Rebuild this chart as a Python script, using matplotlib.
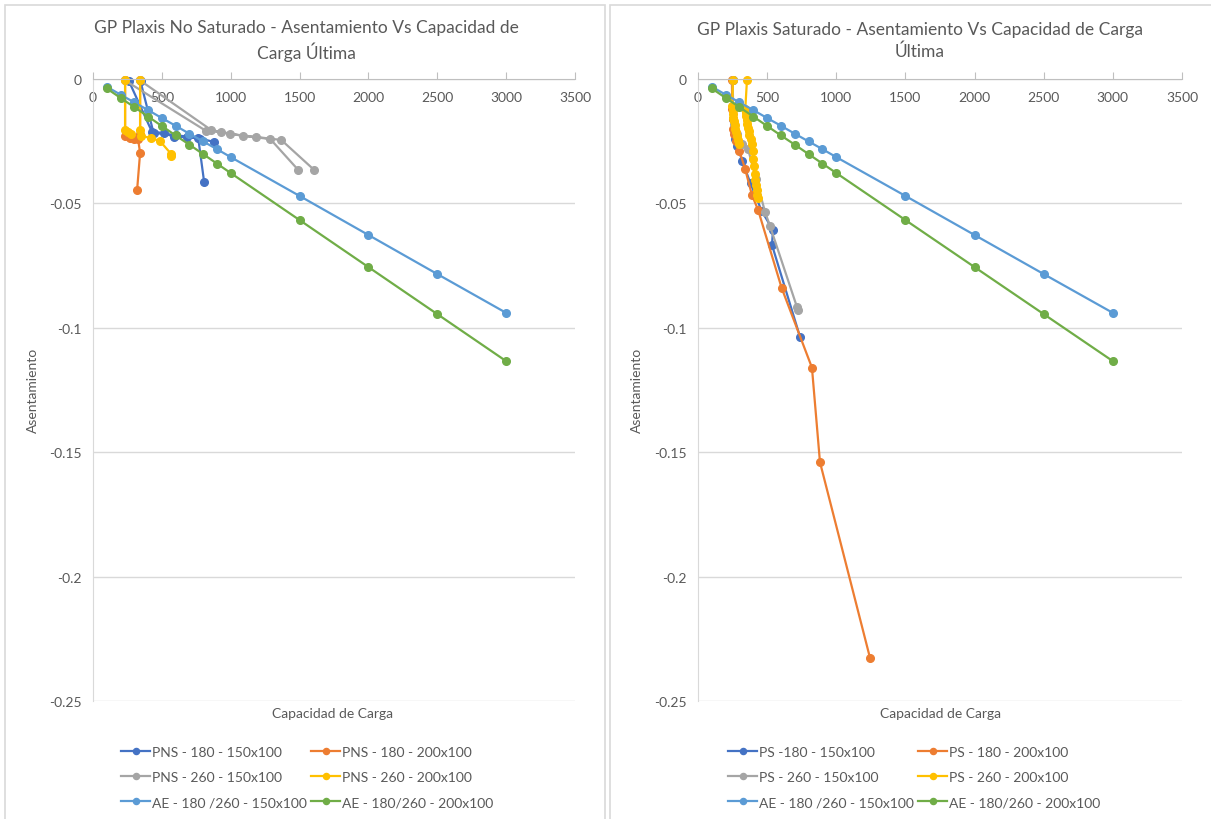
import numpy as np
import matplotlib
matplotlib.use("Agg")
import matplotlib.pyplot as plt
from matplotlib.patches import Rectangle

plt.rcParams['font.family'] = ['Lato', 'DejaVu Sans']

# ---- data (None = gap in the line, like empty cells in Excel) ----
ae_x = [100, 200, 300, 400, 500, 600, 700, 800, 900, 1000, 1500, 2000, 2500, 3000]
ae150_y = [-0.0031, -0.0063, -0.0094, -0.0125, -0.0157, -0.0188, -0.022, -0.0251,
           -0.0282, -0.0314, -0.047, -0.0627, -0.0784, -0.094]
ae200_y = [-0.0038, -0.0076, -0.0113, -0.0151, -0.0189, -0.0227, -0.0264, -0.0302,
           -0.034, -0.0378, -0.0567, -0.0756, -0.0945, -0.1134]

# no saturado
pns180_150_x = [262, 429, 516, 589, 684, 764, 807, None, 345, 440, 600, 780, 880]
pns180_150_y = [-0.001, -0.0213, -0.0217, -0.0233, -0.0233, -0.0237, -0.0414, None,
                -0.001, -0.0217, -0.0225, -0.024, -0.0253]
pns180_200_x = [233, 233, 269, 300, None, 342, 342, 327, 342, 320]
pns180_200_y = [-0.0005, -0.0229, -0.0237, -0.024, None, -0.0005, -0.022, -0.0241, -0.0297, -0.0448]
pns260_150_x = [230, 822, 931, 1091, 1287, 1491, None, 340, 858, 996, 1185, 1367, 1607]
pns260_150_y = [-0.0005, -0.0209, -0.0213, -0.0229, -0.0241, -0.0366, None,
                -0.0005, -0.0205, -0.0221, -0.0233, -0.0245, -0.0366]
pns260_200_x = [233, 233, 255, 276, None, 342, 342, 349, 422, 487, 567, 567]
pns260_200_y = [-0.0005, -0.0205, -0.0213, -0.022, None, -0.0005, -0.0205, -0.0229,
                -0.0237, -0.025, -0.0301, -0.031]

# saturado
ps180_150_x = [250, 252, 256, 262, 270, 285, 320, 380, 460, 542, 535, 738]
ps180_150_y = [-0.0005, -0.012, -0.016, -0.02, -0.024, -0.027, -0.033, -0.042, -0.053,
               -0.0607, -0.0667, -0.1037]
ps180_200_x = [245, 248, 250, 255, 262, 275, 300, 340, 390, 435, 605, 824, 882, 1244]
ps180_200_y = [-0.0005, -0.012, -0.016, -0.02, -0.022, -0.025, -0.029, -0.036, -0.0466,
               -0.0527, -0.084, -0.116, -0.154, -0.2327]
ps260_150_x = [250, 255, 262, 280, 318, 361, 420, 485, 520, 716, 722]
ps260_150_y = [-0.0005, -0.012, -0.018, -0.022, -0.026, -0.028, -0.04, -0.0535, -0.059,
               -0.0917, -0.093]
ps260_200_x = [253, 248, 250, 253, 256, 260, 264, 268, 273, 280, 290, 300, None,
               354, 342, 345, 348, 352, 356, 360, 366, 372, 380, 388, 395, 400, 405,
               410, 415, 420, 425, 430, 434]
ps260_200_y = [-0.0005, -0.011, -0.0125, -0.014, -0.0155, -0.017, -0.0185, -0.02,
               -0.0215, -0.023, -0.0245, -0.026, None,
               -0.0005, -0.012, -0.0135, -0.015, -0.0165, -0.018, -0.0195, -0.021,
               -0.0225, -0.024, -0.026, -0.029, -0.032, -0.035, -0.038, -0.0405,
               -0.0425, -0.0445, -0.0465, -0.048]

blue, orange, gray, yellow = '#4472C4', '#ED7D31', '#A5A5A5', '#FFC000'
lblue, green = '#5B9BD5', '#70AD47'
txt = '#595959'

W, H = 1211, 820
fig = plt.figure(figsize=(W / 100, H / 100), dpi=100)

# chart borders
for x0, x1 in [(5, 605), (610, 1215)]:
    fig.patches.append(Rectangle((x0 / W, -0.05), (x1 - x0) / W, 1.05 - 6 / H,
                                 transform=fig.transFigure, fill=False,
                                 edgecolor='#D9D9D9', lw=1.2))


def arr(v):
    return np.array([np.nan if a is None else a for a in v], dtype=float)


def make_axes(left_px, right_px):
    ax = fig.add_axes([left_px / W, 1 - 702 / H, (right_px - left_px) / W, 622 / H])
    ax.set_xlim(0, 3500)
    ax.set_ylim(-0.25, 0)
    ax.set_xticks(np.arange(0, 3501, 500))
    ax.set_yticks([0, -0.05, -0.1, -0.15, -0.2, -0.25])
    ax.set_yticklabels(['0', '-0.05', '-0.1', '-0.15', '-0.2', '-0.25'])
    ax.spines['bottom'].set_position(('data', 0))
    ax.spines['bottom'].set_color('#BFBFBF')
    ax.spines['left'].set_color('#D9D9D9')
    ax.spines['top'].set_visible(False)
    ax.spines['right'].set_visible(False)
    ax.tick_params(axis='x', direction='in', length=5, color='#BFBFBF',
                   labelcolor=txt, labelsize=10, pad=9)
    ax.tick_params(axis='y', length=0, labelcolor=txt, labelsize=10, pad=8)
    ax.grid(axis='y', color='#D9D9D9', lw=1)
    ax.set_axisbelow(True)
    return ax


def draw(ax, series):
    handles = []
    for x, y, c, lab in series:
        h, = ax.plot(arr(x), arr(y), color=c, lw=1.6, marker='o', ms=5.5,
                     label=lab, clip_on=False)
        handles.append(h)
    return handles


ax1 = make_axes(93, 575)
h1 = draw(ax1, [
    (pns180_150_x, pns180_150_y, blue, 'PNS - 180 - 150x100'),
    (pns180_200_x, pns180_200_y, orange, 'PNS - 180 - 200x100'),
    (pns260_150_x, pns260_150_y, gray, 'PNS - 260 - 150x100'),
    (pns260_200_x, pns260_200_y, yellow, 'PNS - 260 - 200x100'),
    (ae_x, ae150_y, lblue, 'AE - 180 /260 - 150x100'),
    (ae_x, ae200_y, green, 'AE - 180/260 - 200x100'),
])

ax2 = make_axes(698, 1182)
h2 = draw(ax2, [
    (ps180_150_x, ps180_150_y, blue, 'PS -180 - 150x100'),
    (ps180_200_x, ps180_200_y, orange, 'PS - 180 - 200x100'),
    (ps260_150_x, ps260_150_y, gray, 'PS - 260 - 150x100'),
    (ps260_200_x, ps260_200_y, yellow, 'PS - 260 - 200x100'),
    (ae_x, ae150_y, lblue, 'AE - 180 /260 - 150x100'),
    (ae_x, ae200_y, green, 'AE - 180/260 - 200x100'),
])

# titles and axis labels
fig.text(306 / W, 1 - 41 / H,
         'GP Plaxis No Saturado - Asentamiento Vs Capacidad de\nCarga Última',
         ha='center', va='center', fontsize=12.5, color=txt, linespacing=1.35)
fig.text(920 / W, 1 - 41 / H,
         'GP Plaxis Saturado - Asentamiento Vs Capacidad de Carga\nÚltima',
         ha='center', va='center', fontsize=12.5, color=txt, linespacing=1.35)
for cx, ly in [(33, 333), (637, 940)]:
    fig.text(cx / W, 1 - 390 / H, 'Asentamiento', rotation=90, ha='center',
             va='center', fontsize=10, color=txt)
    fig.text(ly / W, 1 - 714 / H, 'Capacidad de Carga', ha='center',
             va='center', fontsize=10, color=txt)

# legends (two columns, three rows)
for hs, cx in [(h1, 307), (h2, 914)]:
    order = [0, 2, 4, 1, 3, 5]
    fig.legend([hs[i] for i in order], [hs[i].get_label() for i in order],
               loc='center', bbox_to_anchor=(cx / W, 1 - 778 / H), ncol=2,
               frameon=False, fontsize=10, labelcolor=txt, handlelength=2.1,
               handletextpad=0.1, columnspacing=0.35, labelspacing=0.95,
               markerscale=0.8)

fig.savefig('out.png', dpi=100)
